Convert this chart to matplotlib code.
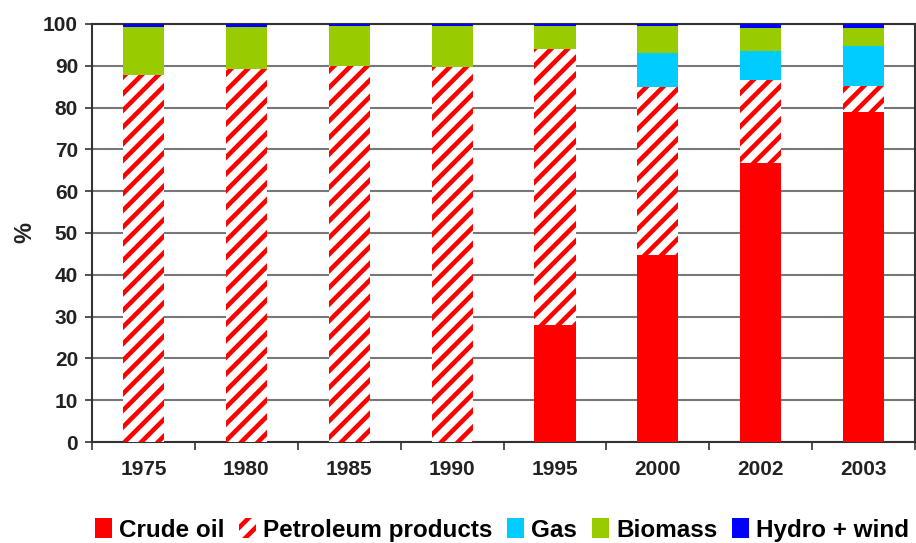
import matplotlib
matplotlib.use("Agg")
import matplotlib.pyplot as plt
import numpy as np
from matplotlib.patches import Patch

plt.rcParams['font.family'] = ['Liberation Sans', 'DejaVu Sans']
plt.rcParams['font.weight'] = 'bold'
plt.rcParams['hatch.linewidth'] = 3.3

years = ["1975", "1980", "1985", "1990", "1995", "2000", "2002", "2003"]
crude_oil = [0.0, 0.0, 0.0, 0.0, 28.0, 44.7, 66.7, 78.9]
petroleum_products = [87.8, 89.3, 90.0, 89.8, 65.9, 40.1, 19.9, 6.3]
gas = [0.0, 0.0, 0.0, 0.0, 0.0, 8.3, 7.0, 9.5]
biomass = [11.4, 9.9, 9.5, 9.7, 5.6, 6.4, 5.4, 4.3]
hydro_wind = [0.8, 0.8, 0.5, 0.5, 0.5, 0.5, 1.0, 1.0]

series_names = ["Crude oil", "Petroleum products", "Gas", "Biomass", "Hydro + wind"]
RED = "#FF0000"
GAS_C = "#00CCFF"
BIO_C = "#99CC00"
HYD_C = "#0000FF"
TXT = "#222222"

fig = plt.figure(figsize=(9.16, 5.43), dpi=100)
ax = fig.add_axes([0.1004, 0.186, 0.8986, 0.770])

x = np.arange(len(years))
w = 0.4
bottom = np.zeros(len(years))

ax.bar(x, crude_oil, w, bottom=bottom, color=RED, linewidth=0, zorder=3)
bottom += np.array(crude_oil)
ax.bar(x, petroleum_products, w, bottom=bottom, facecolor="white",
       edgecolor=RED, hatch="//", linewidth=0, zorder=3)
bottom += np.array(petroleum_products)
ax.bar(x, gas, w, bottom=bottom, color=GAS_C, linewidth=0, zorder=3)
bottom += np.array(gas)
ax.bar(x, biomass, w, bottom=bottom, color=BIO_C, linewidth=0, zorder=3)
bottom += np.array(biomass)
ax.bar(x, hydro_wind, w, bottom=bottom, color=HYD_C, linewidth=0, zorder=3)

ax.set_xlim(-0.5, len(years) - 0.5)
ax.set_ylim(0, 100)
ax.set_yticks(np.arange(0, 101, 10))
ax.yaxis.grid(True, color="#777777", linewidth=1.5, zorder=0)
ax.set_axisbelow(True)

# category labels centred, tick marks at the boundaries between categories
ax.set_xticks(x)
ax.set_xticklabels(years, fontsize=15, fontweight="bold", color=TXT)
ax.tick_params(axis="x", which="major", length=0, pad=13)
ax.set_xticks(np.arange(-0.5, len(years)), minor=True)
ax.tick_params(axis="x", which="minor", length=6, width=1.2,
               direction="out", color="#333333")
ax.tick_params(axis="y", length=5, width=1.2, direction="out", color="#333333",
               labelsize=15, labelcolor=TXT, pad=5)
for lbl in ax.get_yticklabels():
    lbl.set_fontweight("bold")

for s in ax.spines.values():
    s.set_color("#333333")
    s.set_linewidth(1.5)

ax.set_ylabel("%", fontsize=17, fontweight="bold", color=TXT, labelpad=5)

handles = [
    Patch(facecolor=RED, linewidth=0),
    Patch(facecolor="white", edgecolor=RED, hatch="//", linewidth=0),
    Patch(facecolor=GAS_C, linewidth=0),
    Patch(facecolor=BIO_C, linewidth=0),
    Patch(facecolor=HYD_C, linewidth=0),
]
fig.legend(handles, series_names, loc="center", bbox_to_anchor=(0.548, 0.024),
           ncol=5, frameon=False, handlelength=0.7, handleheight=0.9,
           handletextpad=0.3, columnspacing=0.6,
           prop={"weight": "bold", "size": 17.5})

fig.savefig("out.png", dpi=100)
